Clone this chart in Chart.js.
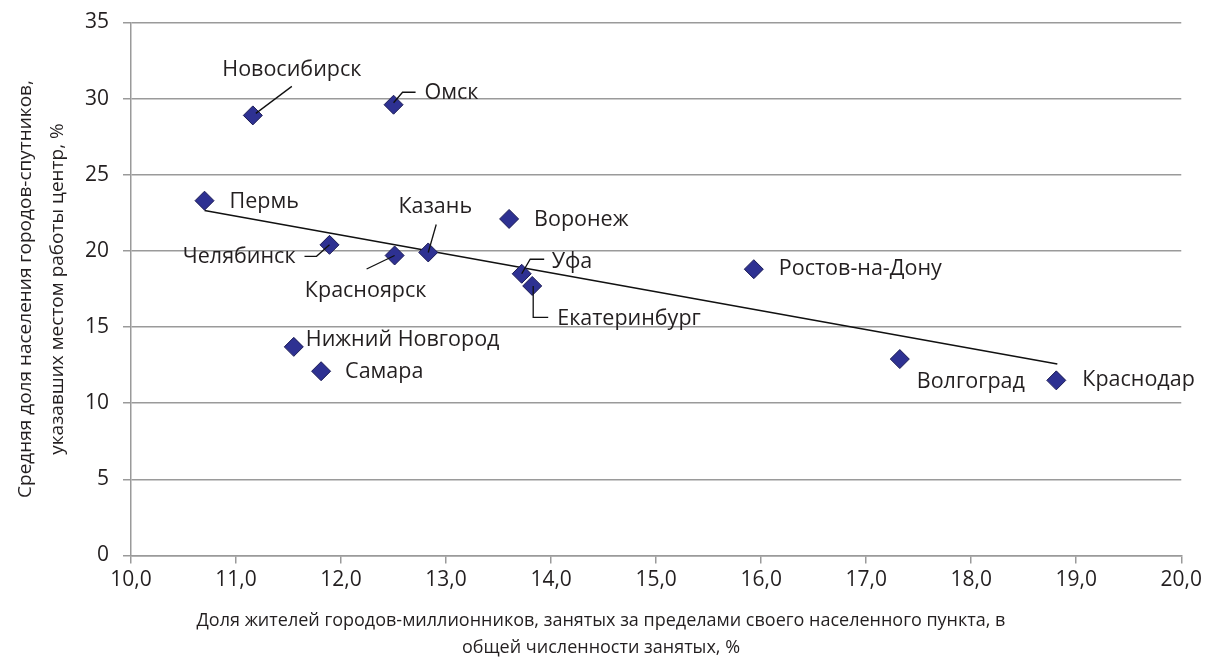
<!DOCTYPE html>
<html>
<head>
<meta charset="utf-8">
<script src="https://cdn.jsdelivr.net/npm/chart.js@4.4.1/dist/chart.umd.min.js"></script>
<style>
  body { margin: 0; background: #fff; }
  #wrap { width: 1206px; height: 661px; position: relative; }
</style>
</head>
<body>
<div id="wrap"><canvas id="chart"></canvas></div>
<script>
// city names and values
const cities = ['Новосибирск', 'Омск', 'Пермь', 'Челябинск', 'Красноярск', 'Казань', 'Воронеж',
    'Уфа', 'Екатеринбург', 'Ростов-на-Дону', 'Нижний Новгород', 'Самара', 'Волгоград', 'Краснодар'];
const outsideShare = [11.16, 12.50, 10.70, 11.89, 12.51, 12.83, 13.60, 13.72, 13.82, 15.93, 11.55, 11.81, 17.32, 18.81];
const satelliteShare = [28.9, 29.6, 23.3, 20.4, 19.7, 19.9, 22.1, 18.5, 17.7, 18.8, 13.7, 12.1, 12.9, 11.5];

// trend line ends
const trendX = [10.70, 18.82];
const trendY = [22.65, 12.58];

const xTitle = ['Доля жителей городов-миллионников, занятых за пределами своего населенного пункта, в',
    'общей численности занятых, %'];
const yTitle = ['Средняя доля населения городов-спутников,', 'указавших местом работы центр, %'];

// label placement: pixel offset from the point, alignment, leader path (pixel offsets)
const labelLayout = [
    { dx: 39, dy: -46, align: 'center', leader: [[39, -29], [3, -2]] },
    { dx: 31, dy: -12, align: 'left', leader: [[0, -2], [9, -12.5], [22, -12.5]] },
    { dx: 25, dy: 1, align: 'left' },
    { dx: -34, dy: 12, align: 'right', leader: [[-25, 11.5], [-13, 11.5], [0, 0]] },
    { dx: -29, dy: 35, align: 'center', leader: [[-28, 13.5], [0, 0]] },
    { dx: 7, dy: -46, align: 'center', leader: [[8, -28], [0, 0]] },
    { dx: 25, dy: 1, align: 'left' },
    { dx: 30, dy: -12, align: 'left', leader: [[0, 0], [8.5, -14.5], [22.5, -14.5]] },
    { dx: 25, dy: 33, align: 'left', leader: [[1, 0], [1, 31.5], [16, 31.5]] },
    { dx: 25, dy: 0, align: 'left' },
    { dx: 12, dy: -7, align: 'left' },
    { dx: 24, dy: 1, align: 'left' },
    { dx: 17, dy: 23, align: 'left' },
    { dx: 26, dy: 0, align: 'left' }
];

const fontFamily = '"Open Sans", "Noto Sans", sans-serif';
const textColor = '#231f20';
const gridColor = '#9a9a9a';

const cityLabels = {
    id: 'cityLabels',
    afterDatasetsDraw(chart) {
        const ctx = chart.ctx;
        const xs = chart.scales.x, ys = chart.scales.y;
        ctx.save();
        ctx.font = '21.5px ' + fontFamily;
        ctx.fillStyle = textColor;
        ctx.strokeStyle = '#111';
        ctx.lineWidth = 1.3;
        ctx.textBaseline = 'middle';
        cities.forEach((name, i) => {
            const px = xs.getPixelForValue(outsideShare[i]);
            const py = ys.getPixelForValue(satelliteShare[i]);
            const lay = labelLayout[i];
            if (lay.leader) {
                ctx.beginPath();
                lay.leader.forEach((p, k) => {
                    if (k === 0) ctx.moveTo(px + p[0], py + p[1]);
                    else ctx.lineTo(px + p[0], py + p[1]);
                });
                ctx.stroke();
            }
            ctx.textAlign = lay.align;
            ctx.fillText(name, px + lay.dx, py + lay.dy);
        });
        // x axis title
        ctx.textAlign = 'center';
        ctx.font = '18px ' + fontFamily;
        ctx.fillText(xTitle[0], 601, 621);
        ctx.fillText(xTitle[1], 601, 648);
        ctx.restore();
    }
};

const ctx = document.getElementById('chart').getContext('2d');
const chart = new Chart(ctx, {
    type: 'scatter',
    data: {
        datasets: [{
            label: 'Города',
            data: outsideShare.map((x, i) => ({ x: x, y: satelliteShare[i] })),
            pointStyle: 'rectRot',
            pointRadius: 9.5,
            pointHoverRadius: 9.5,
            backgroundColor: '#2e3192',
            borderColor: '#1b1b55',
            borderWidth: 1,
            order: 1
        }, {
            type: 'line',
            label: 'Тренд',
            data: trendX.map((x, i) => ({ x: x, y: trendY[i] })),
            borderColor: '#111',
            borderWidth: 1.5,
            pointRadius: 0,
            fill: false,
            order: 2
        }]
    },
    options: {
        responsive: true,
        maintainAspectRatio: false,
        animation: false,
        layout: { padding: { top: 22.5, right: 21, left: 0, bottom: 0 } },
        plugins: {
            legend: { display: false },
            tooltip: { enabled: false }
        },
        scales: {
            x: {
                type: 'linear',
                min: 10,
                max: 20,
                ticks: {
                    stepSize: 1,
                    color: textColor,
                    font: { family: fontFamily, size: 21 },
                    padding: 4,
                    maxRotation: 0,
                    callback: v => v.toFixed(1).replace('.', ',')
                },
                grid: { drawOnChartArea: false, drawTicks: true, tickLength: 8, color: gridColor, lineWidth: 1.5 },
                border: { color: gridColor, width: 1.5 },
                afterFit: scale => { scale.height = 105.5; }
            },
            y: {
                min: 0,
                max: 35,
                ticks: {
                    stepSize: 5,
                    color: textColor,
                    font: { family: fontFamily, size: 21, lineHeight: 0.5 },
                    padding: 14
                },
                grid: { color: gridColor, lineWidth: 1.5, tickLength: 8 },
                border: { color: gridColor, width: 1.5 },
                title: {
                    display: true,
                    text: yTitle,
                    color: textColor,
                    font: { family: fontFamily, size: 19, lineHeight: 1.7 },
                    padding: { top: 9, bottom: 4 }
                },
                afterFit: scale => { scale.width = 131; }
            }
        }
    },
    plugins: [cityLabels]
});
</script>
</body>
</html>
